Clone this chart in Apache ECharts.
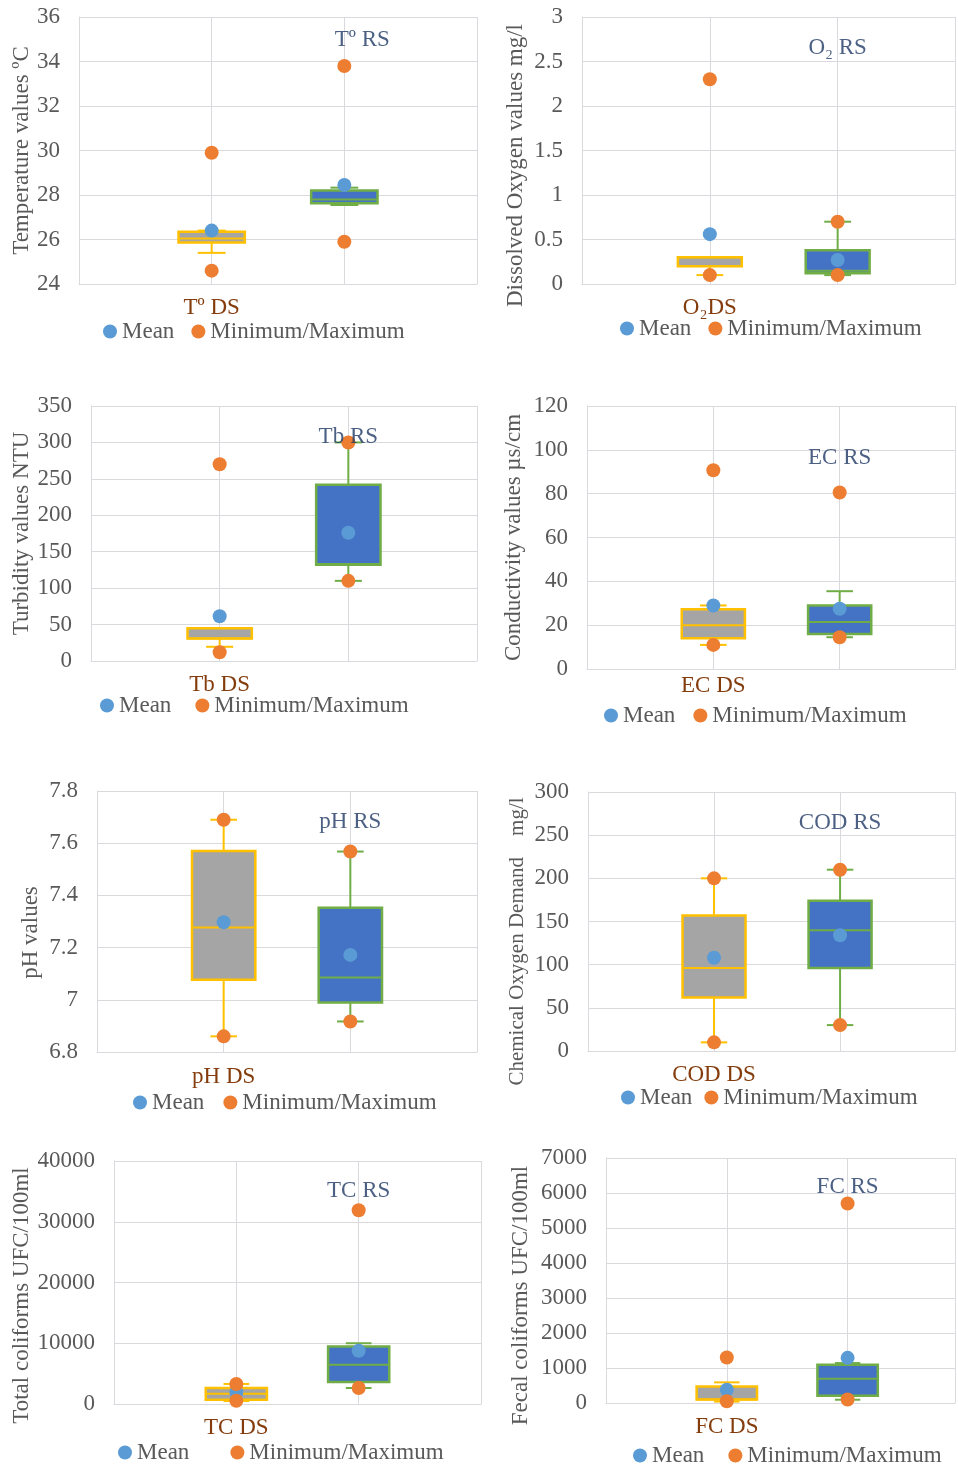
<!DOCTYPE html>
<html>
<head>
<meta charset="utf-8">
<script src="https://cdn.jsdelivr.net/npm/echarts@6/dist/echarts.min.js"></script>
<style>
html,body{margin:0;padding:0;background:#fff;}
#c{width:958px;height:1465px;}
</style>
</head>
<body>
<div id="c"></div>
<script>
// ---------- DATA ----------
const dsLabels = ['Tº DS', 'O₂DS', 'Tb DS', 'EC DS', 'pH DS', 'COD DS', 'TC DS', 'FC DS'];
const rsLabels = ['Tº RS', 'O₂ RS', 'Tb RS', 'EC RS', 'pH RS', 'COD RS', 'TC RS', 'FC RS'];
const yTitles = ['Temperature values ºC', 'Dissolved Oxygen values mg/l', 'Turbidity values NTU',
  'Conductivity values µs/cm', 'pH values', 'Chemical Oxygen Demand    mg/l',
  'Total coliforms UFC/100ml', 'Fecal coliforms UFC/100ml'];
const yMin = [24, 0, 0, 0, 6.8, 0, 0, 0];
const yMax = [36, 3, 350, 120, 7.8, 300, 40000, 7000];
const yStep = [2, 0.5, 50, 20, 0.2, 50, 10000, 1000];
// box stats: [lower whisker, Q1, median, Q3, upper whisker]
const dsBox = [
  [25.4, 25.86, 26.05, 26.35, 26.4],
  [0.1, 0.2, 0.3, 0.3, 0.3],
  [19.5, 31, 31, 45, 45],
  [11, 14, 20, 27.3, 29],
  [6.86, 7.077, 7.277, 7.57, 7.69],
  [10, 62, 96, 157, 200],
  [500, 700, 1700, 2630, 3300],
  [40, 100, 100, 474, 590]
];
const rsBox = [
  [27.55, 27.63, 27.8, 28.2, 28.33],
  [0.1, 0.12, 0.15, 0.38, 0.7],
  [110, 132, 133, 242, 300],
  [14.5, 16, 21.4, 29, 35.5],
  [6.917, 6.99, 7.085, 7.353, 7.568],
  [30, 96, 140, 174, 210],
  [2630, 3620, 6460, 9470, 10000],
  [94, 208, 693, 1093, 1141]
];
const dsMean = [26.4, 0.56, 61.5, 29, 7.297, 108, 1970, 380];
const rsMean = [28.45, 0.27, 176, 27.5, 7.172, 134, 8760, 1290];
const dsMinMax = [[24.6, 29.9], [0.1, 2.3], [12, 270], [11, 90.7], [6.86, 7.69], [10, 200], [540, 3300], [50, 1300]];
const rsMinMax = [[25.9, 33.8], [0.1, 0.7], [110, 300], [14.5, 80.5], [6.917, 7.568], [30, 210], [2630, 31900], [100, 5700]];

// ---------- LAYOUT ----------
const gridLeft = [79, 582, 91, 587, 97, 588, 114, 606];
const gridTop = [17, 17, 406, 406, 791, 792, 1161, 1158];
const gridWidth = [398, 375, 386, 370, 380, 369, 367, 351];
const gridHeight = [267, 267, 255, 263, 261, 259, 243, 245];
const xMaxView = [3, 2.918, 3, 2.913, 3, 2.912, 3, 2.889]; // right panels are cut by the page edge
const nameGap = [45, 55, 57, 62, 55, 60, 80, 74];
const nameShift = [0, 15, 0, 0, 11, 20, 13, 15];
const nameSize = [23, 23, 23, 23, 23, 21, 23, 23];
const dsLabelMargin = [12, 12, 12, 5, 13, 12, 12, 12];
const rsLabelDx = [18, 0, 0, 0, 0, 0, 0, 0];
const rsLabelDy = [23, 31, 31, 52, 31, 31, 30, 29];
const legendLeft = [103, 620, 100, 604, 133, 621, 118, 633];
const legendTop = [320, 317, 694, 704, 1091, 1086, 1441, 1444];
const legendGap = [17, 17, 24, 18, 19, 12, 41, 24];

const FONT = 'Liberation Serif';
const GRID_C = '#D9D9DE';
const TXT = '#595959';

function makeBox(fill, stroke) {
  return function (params, api) {
    const x = api.value(0);
    const band = api.size([1, 0])[0];
    const half = band * 0.25, cap = band * 0.105;
    const p = [1, 2, 3, 4, 5].map(k => api.coord([x, api.value(k)]));
    const cx = p[0][0];
    const ls = { stroke: stroke, lineWidth: 2 };
    return {
      type: 'group', children: [
        { type: 'line', shape: { x1: cx, y1: p[0][1], x2: cx, y2: p[1][1] }, style: ls },
        { type: 'line', shape: { x1: cx, y1: p[3][1], x2: cx, y2: p[4][1] }, style: ls },
        { type: 'line', shape: { x1: cx - cap, y1: p[0][1], x2: cx + cap, y2: p[0][1] }, style: ls },
        { type: 'line', shape: { x1: cx - cap, y1: p[4][1], x2: cx + cap, y2: p[4][1] }, style: ls },
        { type: 'rect', shape: { x: cx - half, y: p[3][1], width: 2 * half, height: p[1][1] - p[3][1] },
          style: { fill: fill, stroke: stroke, lineWidth: 2.5 } },
        { type: 'line', shape: { x1: cx - half, y1: p[2][1], x2: cx + half, y2: p[2][1] }, style: ls }
      ]
    };
  };
}

const grid = [], xAxis = [], yAxis = [], series = [], legend = [];
for (let i = 0; i < 8; i++) {
  grid.push({ left: gridLeft[i], top: gridTop[i], width: gridWidth[i], height: gridHeight[i], containLabel: false });
  xAxis.push({
    gridIndex: i, type: 'value', min: 0, max: xMaxView[i], interval: 1,
    axisLine: { show: true, lineStyle: { color: GRID_C, width: 1 } },
    axisTick: { show: false },
    splitLine: { show: true, lineStyle: { color: GRID_C, width: 1 } },
    axisLabel: {
      margin: dsLabelMargin[i], fontFamily: FONT, fontSize: 23, color: '#843C0C',
      showMinLabel: true, showMaxLabel: true,
      formatter: (function (lab) { return function (v) { return v === 1 ? lab : ''; }; })(dsLabels[i])
    }
  });
  const shift = nameShift[i];
  yAxis.push({
    gridIndex: i, type: 'value', min: yMin[i], max: yMax[i], interval: yStep[i],
    name: yTitles[i], nameLocation: 'middle', nameGap: nameGap[i],
    nameTextStyle: { fontFamily: FONT, fontSize: nameSize[i], color: TXT, padding: [0, 2 * shift, 0, 0] },
    axisLine: { show: true, lineStyle: { color: GRID_C, width: 1 } },
    axisTick: { show: false },
    splitLine: { show: true, lineStyle: { color: GRID_C, width: 1 } },
    axisLabel: {
      margin: 19, fontFamily: FONT, fontSize: 23, color: TXT,
      formatter: function (v) { return String(parseFloat(Number(v).toFixed(4))); }
    }
  });
  series.push({
    type: 'custom', xAxisIndex: i, yAxisIndex: i, name: 'DS box', silent: true, clip: false,
    renderItem: makeBox('#A5A5A5', '#FFC000'),
    data: [[1].concat(dsBox[i])], z: 2
  });
  series.push({
    type: 'custom', xAxisIndex: i, yAxisIndex: i, name: 'RS box', silent: true, clip: false,
    renderItem: makeBox('#4472C4', '#70AD47'),
    data: [[2].concat(rsBox[i])], z: 2
  });
  series.push({
    type: 'scatter', name: 'Mean', xAxisIndex: i, yAxisIndex: i, symbolSize: 14, clip: false,
    itemStyle: { color: '#5B9BD5', opacity: 1 }, z: 3,
    data: [[1, dsMean[i]], [2, rsMean[i]]]
  });
  series.push({
    type: 'scatter', name: 'Minimum/Maximum', xAxisIndex: i, yAxisIndex: i, symbolSize: 14, clip: false,
    itemStyle: { color: '#ED7D31', opacity: 1 }, z: 4,
    data: [[1, dsMinMax[i][0]], [1, dsMinMax[i][1]], [2, rsMinMax[i][0]], [2, rsMinMax[i][1]]]
  });
  series.push({
    type: 'scatter', name: 'rs label', xAxisIndex: i, yAxisIndex: i, symbolSize: 1, clip: false, silent: true,
    itemStyle: { color: 'rgba(0,0,0,0)' }, z: 5,
    label: {
      show: true, position: 'inside', offset: [rsLabelDx[i], rsLabelDy[i]],
      fontFamily: FONT, fontSize: 23, color: '#1F3864',
      formatter: (function (lab) { return function () { return lab; }; })(rsLabels[i])
    },
    data: [[2, yMax[i]]]
  });
  legend.push({
    left: legendLeft[i], top: legendTop[i], orient: 'horizontal', padding: 0,
    data: ['Mean', 'Minimum/Maximum'], icon: 'circle', itemWidth: 14, itemHeight: 14, itemGap: legendGap[i],
    selectedMode: false,
    textStyle: { fontFamily: FONT, fontSize: 23, color: TXT }
  });
}

const chart = echarts.init(document.getElementById('c'), null, { renderer: 'canvas' });
chart.setOption({
  animation: false,
  backgroundColor: '#ffffff',
  grid: grid, xAxis: xAxis, yAxis: yAxis, series: series, legend: legend
});
</script>
</body>
</html>
